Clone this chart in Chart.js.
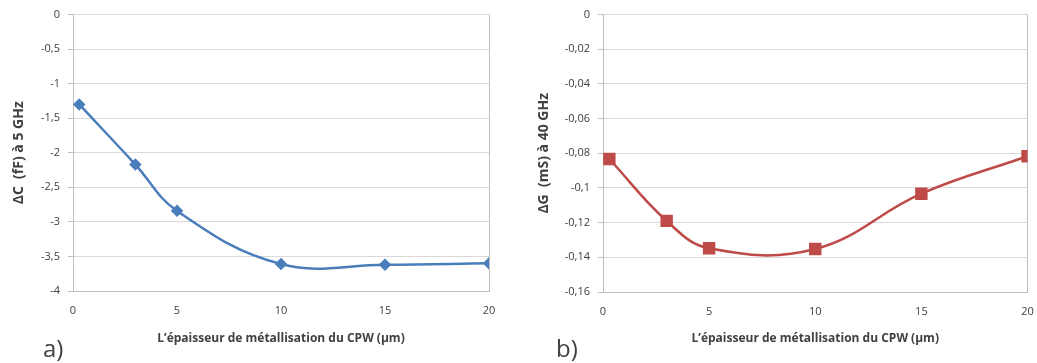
<!DOCTYPE html>
<html lang="fr">
<head>
<meta charset="UTF-8">
<title>ΔC et ΔG en fonction de l'épaisseur de métallisation</title>
<style>
    body { margin: 0; background: #fff; overflow: hidden; }
    .wrap { position: relative; width: 1037px; height: 363px; overflow: hidden; }
    canvas { position: absolute; top: 0; }
    .tag {
        position: absolute;
        font-family: 'Open Sans', sans-serif;
        font-size: 24px;
        color: #404040;
        top: 331px;
    }
</style>
<script src="https://cdn.jsdelivr.net/npm/chart.js"></script>
</head>
<body>
<div class="wrap">
    <canvas id="chartA" width="520" height="363" style="left:0"></canvas>
    <canvas id="chartB" width="517" height="363" style="left:520px"></canvas>
    <div class="tag" style="left:43px">a)</div>
    <div class="tag" style="left:556px">b)</div>
</div>
<script>
// épaisseur de métallisation du CPW (µm)
const thickness = [0.3, 3, 5, 10, 15, 20];
// ΔC (fF) à 5 GHz
const deltaC = [-1.30, -2.17, -2.84, -3.61, -3.62, -3.60];
// ΔG (mS) à 40 GHz
const deltaG = [-0.0833, -0.119, -0.1348, -0.1352, -0.1033, -0.0817];

const xTicks = { min: 0, max: 20, step: 5 };
const yTicksA = { min: -4, max: 0, step: 0.5 };
const yTicksB = { min: -0.16, max: 0, step: 0.02 };

const xTitle = 'L\u2019épaisseur de métallisation du CPW (µm)';

const GRID = '#d9d9d9';
const AXIS = '#bfbfbf';
const TXT = '#404040';
const FONT = "'Open Sans', sans-serif";

function comma(v, dec) {
    return (+v.toFixed(dec)).toString().replace('.', ',');
}

function makeChart(id, ys, yt, yTitle, color, style, radius, pad, yWidth, xHeight, titlePad) {
    return new Chart(document.getElementById(id), {
        type: 'scatter',
        data: {
            datasets: [{
                data: thickness.map((x, i) => ({ x: x, y: ys[i] })),
                showLine: true,
                borderColor: color,
                backgroundColor: color,
                borderWidth: 2.5,
                tension: 0.4,
                pointStyle: style,
                pointRadius: radius,
                pointHoverRadius: radius
            }]
        },
        options: {
            responsive: false,
            animation: false,
            layout: { padding: pad },
            plugins: { legend: { display: false }, tooltip: { enabled: false } },
            scales: {
                x: {
                    type: 'linear',
                    min: xTicks.min, max: xTicks.max,
                    // fixed height, and let the layout padding alone set the right margin
                    afterFit: s => { s.height = xHeight; s.paddingRight = 0; s.paddingLeft = 0; },
                    ticks: { stepSize: xTicks.step, color: TXT, font: { family: FONT, size: 11 }, padding: 13 },
                    grid: {
                        drawTicks: false,
                        color: c => (c.tick && c.tick.value === xTicks.max) ? AXIS : 'transparent'
                    },
                    border: { color: AXIS, width: 1 },
                    title: {
                        display: true, text: xTitle, color: TXT,
                        font: { family: FONT, size: 12, weight: 'bold' },
                        padding: { top: 0, bottom: 17 }
                    }
                },
                y: {
                    min: yt.min, max: yt.max,
                    afterFit: s => { s.width = yWidth; },
                    ticks: {
                        stepSize: yt.step, color: TXT, font: { family: FONT, size: 11 }, padding: 8,
                        callback: v => comma(v, 2)
                    },
                    grid: { color: GRID, tickColor: AXIS, tickLength: 5 },
                    border: { color: AXIS, width: 1 },
                    title: {
                        display: true, text: yTitle, color: TXT,
                        font: { family: FONT, size: 14, weight: 'bold' },
                        padding: { top: titlePad, bottom: 0 }
                    }
                }
            }
        }
    });
}

makeChart('chartA', deltaC, yTicksA, '\u0394C  (fF) à 5 GHz', '#4a7ebb', 'rectRot', 4.5,
    { top: 10, right: 31, bottom: 0, left: 0 }, 73, 72, 11);
makeChart('chartB', deltaG, yTicksB, '\u0394G  (mS) à 40 GHz', '#be4b48', 'rect', 7,
    { top: 12, right: 9, bottom: 0, left: 0 }, 83, 71, 16);
</script>
</body>
</html>
